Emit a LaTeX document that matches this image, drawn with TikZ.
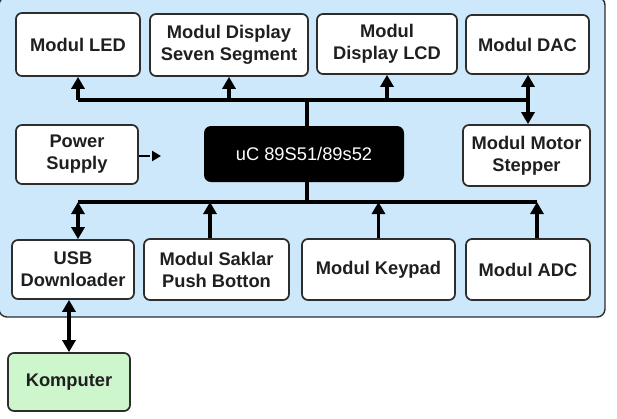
\documentclass[tikz,border=0pt]{standalone}
\usepackage{fontspec}
\setmainfont{Liberation Sans}
\usetikzlibrary{arrows.meta}
\definecolor{panelblue}{RGB}{205,232,250}
\definecolor{kompgreen}{RGB}{206,246,204}
\definecolor{edge}{RGB}{45,45,45}
\tikzset{
  x=1pt, y=-1pt,
  box/.style={draw=edge, line width=1.7pt, rounded corners=6pt, fill=white,
    align=center, inner sep=0pt, font=\fontsize{18.3}{22}\selectfont\bfseries, text=black!88},
  chip/.style={fill=black, rounded corners=7pt, inner sep=0pt, align=center,
    font=\fontsize{18.3}{22}\selectfont, text=white},
  bus/.style={line width=3.4pt, black},
  arr/.style={line width=3.4pt, black, -{Triangle[length=12pt,width=13pt]}},
  biarr/.style={line width=3.4pt, black, {Triangle[length=12pt,width=13pt]}-{Triangle[length=12pt,width=13pt]}},
  pwrarr/.style={line width=2.8pt, black, dash pattern=on 11pt off 10pt, -{Triangle[length=9pt,width=10pt]}}
}
\begin{document}
\begin{tikzpicture}
\useasboundingbox (0,0) rectangle (617,418);
% panel
\draw[draw=edge, line width=1.4pt, fill=panelblue, rounded corners=8pt] (-1,-3) rectangle (605,317);

% nodes
\node[box, minimum width=124pt, minimum height=63pt] (led) at (78,44.5) {Modul LED};
\node[box, minimum width=158pt, minimum height=62pt] (seg) at (229,45) {Modul Display\\Seven Segment};
\node[box, minimum width=140pt, minimum height=60pt] (lcd) at (387,44) {Modul\\Display LCD};
\node[box, minimum width=123pt, minimum height=59pt] (dac) at (527.5,44.5) {Modul DAC};
\node[box, minimum width=122pt, minimum height=59pt] (pwr) at (77,154.5) {Power\\Supply};
\node[chip, minimum width=200pt, minimum height=56pt] (uc) at (304,154) {uC 89S51/89s52};
\node[box, minimum width=127pt, minimum height=61pt] (mot) at (526.5,155.5) {Modul Motor\\Stepper};
\node[box, minimum width=122pt, minimum height=59pt] (usb) at (73,269.5) {USB\\Downloader};
\node[box, minimum width=145pt, minimum height=61pt] (sak) at (216.5,269.5) {Modul Saklar\\Push Botton};
\node[box, minimum width=153pt, minimum height=61pt] (key) at (378.5,269.5) {Modul Keypad};
\node[box, minimum width=124pt, minimum height=61pt] (adc) at (528,269.5) {Modul ADC};
\node[box, fill=kompgreen, minimum width=122pt, minimum height=58pt] (komp) at (69,382) {Komputer};

% bus coordinates
\coordinate (tl) at (78,100);
\coordinate (tj) at (307,100);
\coordinate (tr) at (528,100);
\coordinate (bl) at (78,202);
\coordinate (bj) at (307,202);
\coordinate (bs) at (210,202);
\coordinate (br) at (537,202);
\coordinate (pe) at (161,156);

% top bus
\draw[bus] (tl) -- (tr);
\draw[bus] (uc.north -| tj) -- (tj);
\draw[arr] (tl) -- (led.south);
\draw[arr] (tl -| seg) -- (seg.south);
\draw[arr] (tl -| lcd) -- (lcd.south -| lcd);
\draw[biarr] (mot.north -| tr) -- (dac.south -| tr);

% bottom bus
\draw[bus] (bl) -- (br);
\draw[bus] (uc.south -| bj) -- (bj);
\draw[biarr] (bl) -- (usb.north -| bl);
\draw[arr] (sak.north -| bs) -- (bs);
\draw[arr] (key.north) -- (key.north |- bl);
\draw[arr] (adc.north -| br) -- (br);

% power
\draw[pwrarr] (pwr.east |- pe) -- (pe);

% usb - komputer
\draw[biarr] (usb.south -| komp) -- (komp.north);
\end{tikzpicture}
\end{document}
